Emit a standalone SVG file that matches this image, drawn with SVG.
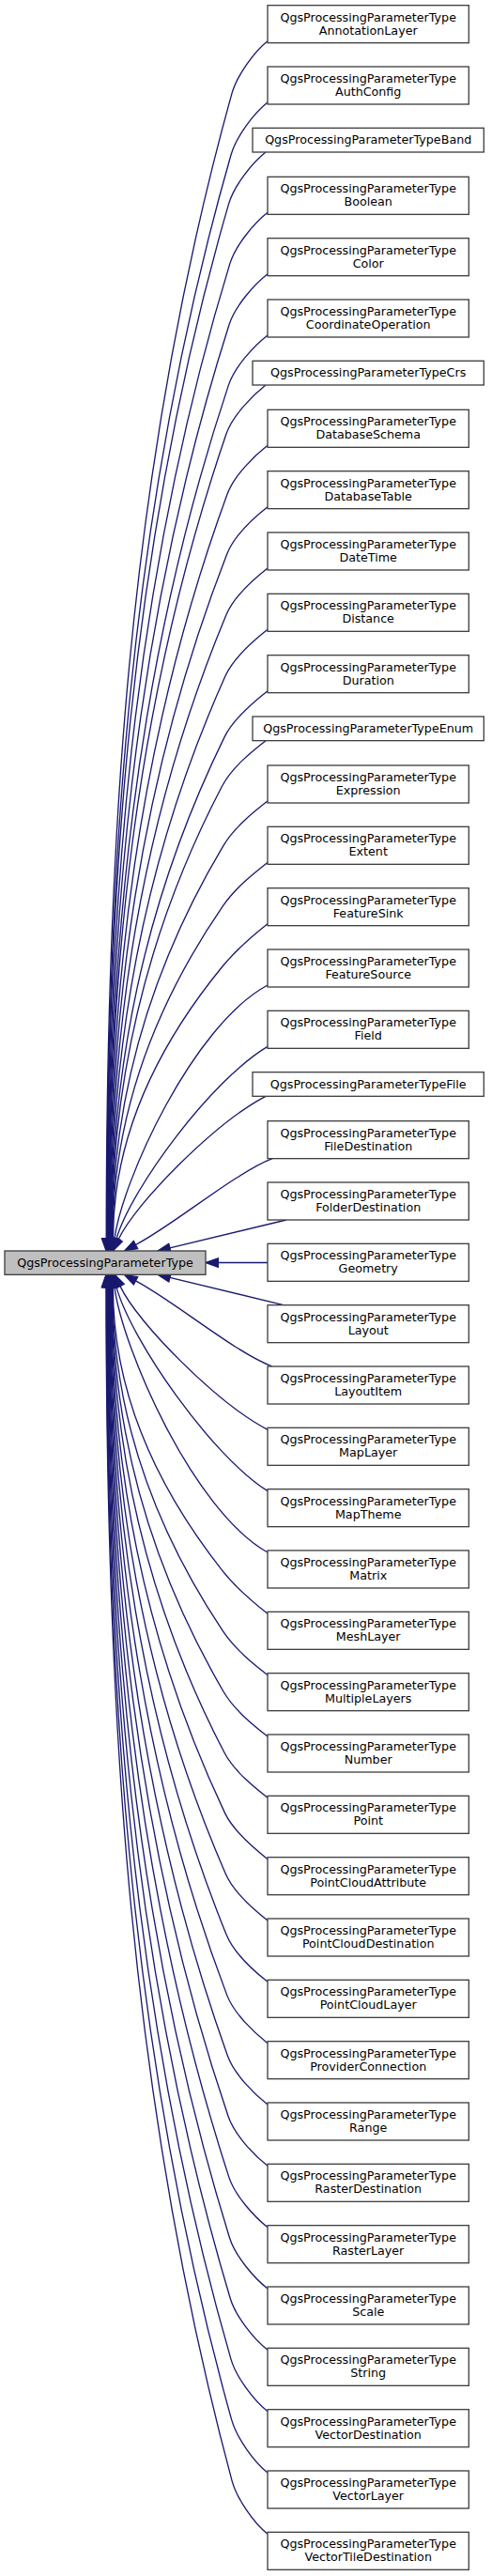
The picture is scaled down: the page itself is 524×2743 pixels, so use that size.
<svg xmlns="http://www.w3.org/2000/svg" width="524" height="2743" viewBox="0 0 524 2743">
<style>
.n rect{fill:#ffffff;stroke:#404040;stroke-width:1.33}
.b rect{fill:#bfbfbf;stroke:#404040;stroke-width:1.33}
text{font-family:"DejaVu Sans",sans-serif;font-size:12.7px;fill:#000;text-anchor:middle}
#edges path{fill:none;stroke:#191970;stroke-width:1.33}
#edges polygon{fill:#191970;stroke:#191970;stroke-width:1.33}
</style>
<rect width="524" height="2743" fill="#ffffff"/>
<g id="edges">
<path d="M285,43.67c-14,11 -32.7,36.7 -38.3,56.7c-112.9,406.2 -133.5,812.4 -133.5,1218.6"/><polygon points="108.5,1319 113.2,1332.3 117.9,1319"/>
<path d="M285,109c-14,11 -33.3,36 -39,56c-110.4,384.7 -132.3,769.4 -132.3,1154"/><polygon points="109,1319 113.7,1332.3 118.4,1319"/>
<path d="M283,162c-14,11 -33.7,35.35 -39.5,55.35c-106.7,367.2 -129.4,734.4 -129.4,1101.65"/><polygon points="109.4,1319 114.1,1332.3 118.8,1319"/>
<path d="M285,226.33c-14,11 -34.1,34.6 -40.2,54.6c-105.9,346 -130.2,692 -130.2,1038.07"/><polygon points="109.9,1319 114.6,1332.3 119.3,1319"/>
<path d="M285,291.67c-14,11 -34.5,33.85 -40.9,53.85c-103.4,324.5 -129,649 -129,973.48"/><polygon points="110.4,1319 115.1,1332.3 119.8,1319"/>
<path d="M285,357c-14,11 -34.9,33.1 -41.6,53.1c-101,303 -127.8,605.9 -127.8,908.9"/><polygon points="110.9,1319 115.6,1332.3 120.3,1319"/>
<path d="M283,410c-14,11 -35.4,32.5 -42.2,52.5c-97.4,285.5 -124.8,571 -124.8,856.5"/><polygon points="111.3,1319 116,1332.3 120.7,1319"/>
<path d="M285,474.33c-14,11 -35.6,31.75 -42.9,51.75c-96.6,264.3 -125.6,528.6 -125.6,792.92"/><polygon points="111.8,1319 116.5,1332.3 121.2,1319"/>
<path d="M285,539.67c-14,11 -35.8,31 -43.6,51c-94.3,242.8 -124.4,485.6 -124.4,728.33"/><polygon points="112.3,1319 117,1332.3 121.7,1319"/>
<path d="M285,605c-14,11 -36,30.24 -44.3,50.24c-91.9,221.25 -123.2,442.5 -123.2,663.76"/><polygon points="112.8,1319 117.5,1332.3 122.2,1319"/>
<path d="M285,670.33c-14,11 -36,29.5 -45,49.5c-89.6,199.7 -122,399.4 -122,599.17"/><polygon points="113.3,1319 118,1332.3 122.7,1319"/>
<path d="M285,735.67c-14,11 -35.9,28.73 -45.7,48.73c-87.4,178.2 -120.8,356.4 -120.8,534.6"/><polygon points="113.8,1319 118.5,1332.3 123.2,1319"/>
<path d="M283,788.67c-14,11 -35.8,28.12 -46.3,48.12c-84.1,160.7 -117.8,321.5 -117.8,482.21"/><polygon points="114.2,1319 118.9,1332.3 123.6,1319"/>
<path d="M285,853c-14,11 -35.1,27.38 -47,47.38c-83.3,139.5 -118.6,279.1 -118.6,418.62"/><polygon points="114.7,1319 119.4,1332.3 124.1,1319"/>
<path d="M285,918.33c-14,11 -34,26.62 -47.7,46.62c-81.1,118 -117.4,236 -117.4,354.05"/><polygon points="115.2,1319 119.9,1332.3 124.6,1319"/>
<path d="M285,983.67c-14,11 -32,25.87 -48.4,45.87c-78.9,96.5 -116.2,193 -116.2,289.46"/><polygon points="115.7,1319 120.4,1332.3 125.1,1319"/>
<path d="M285,1049C205,1092 130,1258 122,1319"/><polygon points="126.6,1319.6 120.3,1332.2 117.4,1318.4"/>
<path d="M285,1114.33C225,1150 140,1265 124,1319"/><polygon points="128.5,1320.3 120.2,1331.8 119.5,1317.7"/>
<path d="M283,1167.33C230,1195 145,1280 126,1320"/><polygon points="130.2,1322.05 120.2,1332 121.8,1317.95"/>
<path d="M290,1233.67C250,1249.33 185,1304.33 144.5,1325.5"/><polygon points="146.66,1329.64 132.7,1331.7 142.34,1321.36"/>
<path d="M305,1299L180.9,1328.9"/><polygon points="182,1333.4 168,1332 179.8,1324.3"/>
<path d="M285,1344.5L232.3,1344.5"/><polygon points="232.3,1339.8 219,1344.5 232.3,1349.2"/>
<path d="M305,1390.33L180.9,1360.4"/><polygon points="182,1355.9 168,1357.33 179.8,1365"/>
<path d="M290,1455C250,1440 185,1385 144.5,1363.83"/><polygon points="146.66,1359.69 132.7,1357.63 142.34,1367.97"/>
<path d="M285,1522.33c-53,-27.67 -138,-112.67 -157,-152.67"/><polygon points="132.2,1367.28 122.2,1357.33 123.8,1371.38"/>
<path d="M285,1587.67c-60,-37.8 -145,-159.7 -161,-217"/><polygon points="128.5,1369.03 120.2,1357.53 119.5,1371.63"/>
<path d="M285,1653c-80,-45 -155,-218.6 -163,-282.33"/><polygon points="126.6,1369.7 120.3,1357.1 117.4,1370.9"/>
<path d="M285,1718.33c-14,-11 -32.5,-26.01 -48.26,-46.01c-79.3,-100.55 -116.4,-201.1 -116.4,-301.65"/><polygon points="115.6,1370.67 120.3,1357.33 125,1370.67"/>
<path d="M285,1783.67c-14,-11 -34.2,-26.77 -47.55,-46.77c-81.5,-122.08 -117.65,-244.15 -117.65,-366.23"/><polygon points="115.1,1370.67 119.8,1357.33 124.5,1370.67"/>
<path d="M285,1849c-14,-11 -35.15,-27.52 -46.85,-47.52c-83.7,-143.6 -118.85,-287.2 -118.85,-430.81"/><polygon points="114.6,1370.67 119.3,1357.33 124,1370.67"/>
<path d="M285,1914.33c-14,-11 -35.75,-28.27 -46.15,-48.27c-86,-165.13 -120.05,-330.26 -120.05,-495.39"/><polygon points="114.1,1370.67 118.8,1357.33 123.5,1370.67"/>
<path d="M285,1979.67c-14,-11 -35.94,-29.03 -45.44,-49.03c-88.3,-186.66 -121.26,-373.31 -121.26,-559.97"/><polygon points="113.6,1370.67 118.3,1357.33 123,1370.67"/>
<path d="M285,2045c-14,-11 -36.04,-29.78 -44.74,-49.78c-90.5,-208.18 -122.46,-416.37 -122.46,-624.55"/><polygon points="113.1,1370.67 117.8,1357.33 122.5,1370.67"/>
<path d="M285,2110.33c-14,-11 -35.93,-30.53 -44.03,-50.53c-92.9,-229.71 -123.67,-459.42 -123.67,-689.13"/><polygon points="112.6,1370.67 117.3,1357.33 122,1370.67"/>
<path d="M285,2175.67c-14,-11 -35.73,-31.29 -43.33,-51.29c-95.2,-251.24 -124.87,-502.47 -124.87,-753.71"/><polygon points="112.1,1370.67 116.8,1357.33 121.5,1370.67"/>
<path d="M285,2241c-14,-11 -35.43,-32.04 -42.63,-52.04c-97.6,-272.76 -126.07,-545.53 -126.07,-818.29"/><polygon points="111.6,1370.67 116.3,1357.33 121,1370.67"/>
<path d="M285,2306.33c-14,-11 -35.12,-32.8 -41.92,-52.8c-100,-294.29 -127.28,-588.57 -127.28,-882.86"/><polygon points="111.1,1370.67 115.8,1357.33 120.5,1370.67"/>
<path d="M285,2371.67c-14,-11 -34.72,-33.55 -41.22,-53.55c-102.4,-315.82 -128.48,-631.63 -128.48,-947.45"/><polygon points="110.6,1370.67 115.3,1357.33 120,1370.67"/>
<path d="M285,2437c-14,-11 -34.32,-34.3 -40.52,-54.3c-104.9,-337.34 -129.68,-674.69 -129.68,-1012.03"/><polygon points="110.1,1370.67 114.8,1357.33 119.5,1370.67"/>
<path d="M285,2502.33c-14,-11 -33.81,-35.06 -39.81,-55.06c-107.4,-358.87 -130.89,-717.73 -130.89,-1076.6"/><polygon points="109.6,1370.67 114.3,1357.33 119,1370.67"/>
<path d="M285,2567.67c-14,-11 -33.31,-35.81 -39.11,-55.81c-109.9,-380.4 -132.09,-760.79 -132.09,-1141.19"/><polygon points="109.1,1370.67 113.8,1357.33 118.5,1370.67"/>
<path d="M285,2633c-14,-11 -32.81,-36.57 -38.41,-56.57c-112.4,-401.92 -133.29,-803.84 -133.29,-1205.76"/><polygon points="108.6,1370.67 113.3,1357.33 118,1370.67"/>
<path d="M285,2698.33c-14,-11 -32.6,-37 -38,-57c-113.9,-423.55 -134,-847.1 -134,-1270.66"/><polygon points="108.3,1370.67 113,1357.33 117.7,1370.67"/>
</g>
<g id="base" class="b"><rect x="5" y="1332" width="214" height="25.33"/><text x="112" y="1348.8">QgsProcessingParameterType</text></g>
<g id="n1" class="n"><rect x="285" y="5.67" width="214.3" height="40"/><text x="392.2" y="22.67">QgsProcessingParameterType</text><text x="392.2" y="36.67">AnnotationLayer</text></g>
<g id="n2" class="n"><rect x="285" y="71" width="214.3" height="40"/><text x="392.2" y="88">QgsProcessingParameterType</text><text x="392.2" y="102">AuthConfig</text></g>
<g id="n3" class="n"><rect x="269" y="136.33" width="246.3" height="25.67"/><text x="392.2" y="153.33">QgsProcessingParameterTypeBand</text></g>
<g id="n4" class="n"><rect x="285" y="188.33" width="214.3" height="40"/><text x="392.2" y="205.33">QgsProcessingParameterType</text><text x="392.2" y="219.33">Boolean</text></g>
<g id="n5" class="n"><rect x="285" y="253.67" width="214.3" height="40"/><text x="392.2" y="270.67">QgsProcessingParameterType</text><text x="392.2" y="284.67">Color</text></g>
<g id="n6" class="n"><rect x="285" y="319" width="214.3" height="40"/><text x="392.2" y="336">QgsProcessingParameterType</text><text x="392.2" y="350">CoordinateOperation</text></g>
<g id="n7" class="n"><rect x="269" y="384.33" width="246.3" height="25.67"/><text x="392.2" y="401.33">QgsProcessingParameterTypeCrs</text></g>
<g id="n8" class="n"><rect x="285" y="436.33" width="214.3" height="40"/><text x="392.2" y="453.33">QgsProcessingParameterType</text><text x="392.2" y="467.33">DatabaseSchema</text></g>
<g id="n9" class="n"><rect x="285" y="501.67" width="214.3" height="40"/><text x="392.2" y="518.67">QgsProcessingParameterType</text><text x="392.2" y="532.67">DatabaseTable</text></g>
<g id="n10" class="n"><rect x="285" y="567" width="214.3" height="40"/><text x="392.2" y="584">QgsProcessingParameterType</text><text x="392.2" y="598">DateTime</text></g>
<g id="n11" class="n"><rect x="285" y="632.33" width="214.3" height="40"/><text x="392.2" y="649.33">QgsProcessingParameterType</text><text x="392.2" y="663.33">Distance</text></g>
<g id="n12" class="n"><rect x="285" y="697.67" width="214.3" height="40"/><text x="392.2" y="714.67">QgsProcessingParameterType</text><text x="392.2" y="728.67">Duration</text></g>
<g id="n13" class="n"><rect x="269" y="763" width="246.3" height="25.67"/><text x="392.2" y="780">QgsProcessingParameterTypeEnum</text></g>
<g id="n14" class="n"><rect x="285" y="815" width="214.3" height="40"/><text x="392.2" y="832">QgsProcessingParameterType</text><text x="392.2" y="846">Expression</text></g>
<g id="n15" class="n"><rect x="285" y="880.33" width="214.3" height="40"/><text x="392.2" y="897.33">QgsProcessingParameterType</text><text x="392.2" y="911.33">Extent</text></g>
<g id="n16" class="n"><rect x="285" y="945.67" width="214.3" height="40"/><text x="392.2" y="962.67">QgsProcessingParameterType</text><text x="392.2" y="976.67">FeatureSink</text></g>
<g id="n17" class="n"><rect x="285" y="1011" width="214.3" height="40"/><text x="392.2" y="1028">QgsProcessingParameterType</text><text x="392.2" y="1042">FeatureSource</text></g>
<g id="n18" class="n"><rect x="285" y="1076.33" width="214.3" height="40"/><text x="392.2" y="1093.33">QgsProcessingParameterType</text><text x="392.2" y="1107.33">Field</text></g>
<g id="n19" class="n"><rect x="269" y="1141.67" width="246.3" height="25.67"/><text x="392.2" y="1158.67">QgsProcessingParameterTypeFile</text></g>
<g id="n20" class="n"><rect x="285" y="1193.67" width="214.3" height="40"/><text x="392.2" y="1210.67">QgsProcessingParameterType</text><text x="392.2" y="1224.67">FileDestination</text></g>
<g id="n21" class="n"><rect x="285" y="1259" width="214.3" height="40"/><text x="392.2" y="1276">QgsProcessingParameterType</text><text x="392.2" y="1290">FolderDestination</text></g>
<g id="n22" class="n"><rect x="285" y="1324.33" width="214.3" height="40"/><text x="392.2" y="1341.33">QgsProcessingParameterType</text><text x="392.2" y="1355.33">Geometry</text></g>
<g id="n23" class="n"><rect x="285" y="1389.67" width="214.3" height="40"/><text x="392.2" y="1406.67">QgsProcessingParameterType</text><text x="392.2" y="1420.67">Layout</text></g>
<g id="n24" class="n"><rect x="285" y="1455" width="214.3" height="40"/><text x="392.2" y="1472">QgsProcessingParameterType</text><text x="392.2" y="1486">LayoutItem</text></g>
<g id="n25" class="n"><rect x="285" y="1520.33" width="214.3" height="40"/><text x="392.2" y="1537.33">QgsProcessingParameterType</text><text x="392.2" y="1551.33">MapLayer</text></g>
<g id="n26" class="n"><rect x="285" y="1585.67" width="214.3" height="40"/><text x="392.2" y="1602.67">QgsProcessingParameterType</text><text x="392.2" y="1616.67">MapTheme</text></g>
<g id="n27" class="n"><rect x="285" y="1651" width="214.3" height="40"/><text x="392.2" y="1668">QgsProcessingParameterType</text><text x="392.2" y="1682">Matrix</text></g>
<g id="n28" class="n"><rect x="285" y="1716.33" width="214.3" height="40"/><text x="392.2" y="1733.33">QgsProcessingParameterType</text><text x="392.2" y="1747.33">MeshLayer</text></g>
<g id="n29" class="n"><rect x="285" y="1781.67" width="214.3" height="40"/><text x="392.2" y="1798.67">QgsProcessingParameterType</text><text x="392.2" y="1812.67">MultipleLayers</text></g>
<g id="n30" class="n"><rect x="285" y="1847" width="214.3" height="40"/><text x="392.2" y="1864">QgsProcessingParameterType</text><text x="392.2" y="1878">Number</text></g>
<g id="n31" class="n"><rect x="285" y="1912.33" width="214.3" height="40"/><text x="392.2" y="1929.33">QgsProcessingParameterType</text><text x="392.2" y="1943.33">Point</text></g>
<g id="n32" class="n"><rect x="285" y="1977.67" width="214.3" height="40"/><text x="392.2" y="1994.67">QgsProcessingParameterType</text><text x="392.2" y="2008.67">PointCloudAttribute</text></g>
<g id="n33" class="n"><rect x="285" y="2043" width="214.3" height="40"/><text x="392.2" y="2060">QgsProcessingParameterType</text><text x="392.2" y="2074">PointCloudDestination</text></g>
<g id="n34" class="n"><rect x="285" y="2108.33" width="214.3" height="40"/><text x="392.2" y="2125.33">QgsProcessingParameterType</text><text x="392.2" y="2139.33">PointCloudLayer</text></g>
<g id="n35" class="n"><rect x="285" y="2173.67" width="214.3" height="40"/><text x="392.2" y="2190.67">QgsProcessingParameterType</text><text x="392.2" y="2204.67">ProviderConnection</text></g>
<g id="n36" class="n"><rect x="285" y="2239" width="214.3" height="40"/><text x="392.2" y="2256">QgsProcessingParameterType</text><text x="392.2" y="2270">Range</text></g>
<g id="n37" class="n"><rect x="285" y="2304.33" width="214.3" height="40"/><text x="392.2" y="2321.33">QgsProcessingParameterType</text><text x="392.2" y="2335.33">RasterDestination</text></g>
<g id="n38" class="n"><rect x="285" y="2369.67" width="214.3" height="40"/><text x="392.2" y="2386.67">QgsProcessingParameterType</text><text x="392.2" y="2400.67">RasterLayer</text></g>
<g id="n39" class="n"><rect x="285" y="2435" width="214.3" height="40"/><text x="392.2" y="2452">QgsProcessingParameterType</text><text x="392.2" y="2466">Scale</text></g>
<g id="n40" class="n"><rect x="285" y="2500.33" width="214.3" height="40"/><text x="392.2" y="2517.33">QgsProcessingParameterType</text><text x="392.2" y="2531.33">String</text></g>
<g id="n41" class="n"><rect x="285" y="2565.67" width="214.3" height="40"/><text x="392.2" y="2582.67">QgsProcessingParameterType</text><text x="392.2" y="2596.67">VectorDestination</text></g>
<g id="n42" class="n"><rect x="285" y="2631" width="214.3" height="40"/><text x="392.2" y="2648">QgsProcessingParameterType</text><text x="392.2" y="2662">VectorLayer</text></g>
<g id="n43" class="n"><rect x="285" y="2696.33" width="214.3" height="40"/><text x="392.2" y="2713.33">QgsProcessingParameterType</text><text x="392.2" y="2727.33">VectorTileDestination</text></g>
</svg>
